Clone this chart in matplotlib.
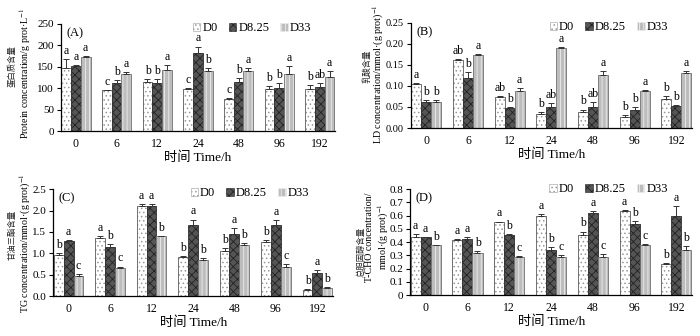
import matplotlib
matplotlib.use("Agg")
import matplotlib.pyplot as plt
import numpy as np

plt.rcParams["font.family"] = ["Liberation Serif", "Noto Sans CJK SC", "DejaVu Sans"]
plt.rcParams["mathtext.fontset"] = "stix"
plt.rcParams["hatch.linewidth"] = 0.6

times = ["0", "6", "12", "24", "48", "96", "192"]
groups = ["D0", "D8.25", "D33"]

# (A) protein
prot_d0 = [147, 95, 115, 98, 74, 98, 97]
prot_d825 = [152, 113, 113, 182, 114, 101, 102]
prot_d33 = [172, 133, 143, 140, 139, 133, 126]
prot_e0 = [20, 1, 6, 2, 3, 6, 10]
prot_e825 = [2, 7, 9, 15, 10, 10, 10]
prot_e33 = [3, 5, 10, 6, 8, 18, 14]
prot_l0 = ["a", "c", "b", "c", "c", "b", "b"]
prot_l825 = ["a", "b", "b", "a", "b", "b", "ab"]
prot_l33 = ["a", "a", "a", "b", "a", "a", "a"]

# (B) lactate
ld_d0 = [0.105, 0.162, 0.074, 0.034, 0.038, 0.027, 0.069]
ld_d825 = [0.063, 0.118, 0.047, 0.049, 0.050, 0.043, 0.052]
ld_d33 = [0.063, 0.173, 0.089, 0.190, 0.126, 0.088, 0.131]
ld_e0 = [0.002, 0.002, 0.002, 0.004, 0.006, 0.004, 0.008]
ld_e825 = [0.003, 0.015, 0.003, 0.010, 0.012, 0.007, 0.002]
ld_e33 = [0.003, 0.002, 0.006, 0.002, 0.010, 0.003, 0.005]
ld_l0 = ["a", "ab", "ab", "b", "b", "b", "b"]
ld_l825 = ["b", "b", "b", "ab", "ab", "b", "b"]
ld_l33 = ["b", "a", "a", "a", "a", "a", "a"]

# (C) triglyceride
tg_d0 = [0.95, 1.35, 2.10, 0.92, 1.05, 1.27, 0.14]
tg_d825 = [1.29, 1.15, 2.11, 1.67, 1.46, 1.66, 0.55]
tg_d33 = [0.47, 0.65, 1.40, 0.85, 1.20, 0.67, 0.18]
tg_e0 = [0.05, 0.05, 0.05, 0.02, 0.08, 0.03, 0.02]
tg_e825 = [0.02, 0.07, 0.05, 0.12, 0.12, 0.12, 0.05]
tg_e33 = [0.05, 0.04, 0.01, 0.03, 0.05, 0.07, 0.02]
tg_l0 = ["b", "a", "a", "b", "b", "b", "b"]
tg_l825 = ["a", "b", "a", "a", "a", "a", "a"]
tg_l33 = ["c", "c", "b", "b", "b", "c", "b"]

# (D) total cholesterol
tc_d0 = [0.44, 0.415, 0.55, 0.60, 0.45, 0.635, 0.235]
tc_d825 = [0.435, 0.425, 0.45, 0.34, 0.62, 0.54, 0.595]
tc_d33 = [0.375, 0.32, 0.29, 0.29, 0.29, 0.375, 0.34]
tc_e0 = [0.02, 0.005, 0.005, 0.01, 0.03, 0.01, 0.005]
tc_e825 = [0.005, 0.01, 0.01, 0.02, 0.015, 0.02, 0.075]
tc_e33 = [0.005, 0.01, 0.005, 0.015, 0.02, 0.01, 0.03]
tc_l0 = ["a", "a", "a", "a", "b", "a", "b"]
tc_l825 = ["a", "a", "b", "b", "a", "b", "a"]
tc_l33 = ["b", "b", "c", "c", "c", "c", "b"]

styles = [
    dict(facecolor="white", hatch="....", edgecolor="#999999"),
    dict(facecolor="#555555", hatch="xxxx", edgecolor="#222222"),
    dict(facecolor="#bdbdbd", hatch="||||", edgecolor="#eeeeee"),
]

fig = plt.figure(figsize=(7, 3.36), dpi=100)

panels = [
    dict(rect=[0.087, 0.610, 0.392, 0.319], tag="(A)", cn_xy=(12, 66), en_xy=(25, 73),
         vals=[prot_d0, prot_d825, prot_d33], errs=[prot_e0, prot_e825, prot_e33],
         lets=[prot_l0, prot_l825, prot_l33], ylim=250, step=50, fmt="{:.0f}",
         zero="0", ytick_fs=8, leg_y=0.96,
         cn="蛋白质含量", en="Protein concentration/g prot·L$^{-1}$"),
    dict(rect=[0.587, 0.619, 0.402, 0.313], tag="(B)", cn_xy=(367, 66), en_xy=(378, 74),
         vals=[ld_d0, ld_d825, ld_d33], errs=[ld_e0, ld_e825, ld_e33],
         lets=[ld_l0, ld_l825, ld_l33], ylim=0.25, step=0.05, fmt="{:.2f}",
         zero="0.00", ytick_fs=7.5, leg_y=0.96,
         cn="乳酸含量", en="LD concentration/mmol·(g prot)$^{-1}$"),
    dict(rect=[0.076, 0.119, 0.400, 0.318], tag="(C)", cn_xy=(12, 235), en_xy=(25, 243),
         vals=[tg_d0, tg_d825, tg_d33], errs=[tg_e0, tg_e825, tg_e33],
         lets=[tg_l0, tg_l825, tg_l33], ylim=2.5, step=0.5, fmt="{:.1f}",
         zero="0.0", ytick_fs=8, leg_y=0.96,
         cn="甘油三酯含量", en="TG concentration/mmol·(g prot)$^{-1}$"),
    dict(rect=[0.586, 0.122, 0.403, 0.315], tag="(D)", cn_xy=(361, 252), en_xy=(378, 237),
         vals=[tc_d0, tc_d825, tc_d33], errs=[tc_e0, tc_e825, tc_e33],
         lets=[tc_l0, tc_l825, tc_l33], ylim=0.8, step=0.1, fmt="{:.1f}",
         zero="0", ytick_fs=8, leg_y=1.0,
         cn="总胆固醇含量", en="T-CHO concentration/\nmmol·(g prot)$^{-1}$"),
]

x = np.arange(len(times))
w = 0.24
W, H = 700.0, 336.0
for p in panels:
    ax = fig.add_axes(p["rect"])
    handles = []
    for i in range(3):
        pos = x + (i - 1) * w
        vals = np.array(p["vals"][i])
        errs = np.array(p["errs"][i])
        b = ax.bar(pos, vals, w, label=groups[i], linewidth=0.4, **styles[i])
        handles.append(b)
        ax.bar(pos, vals, w, facecolor="none", edgecolor="#333333", linewidth=0.4)
        ax.errorbar(pos, vals, yerr=[np.zeros_like(errs), errs], fmt="none",
                    ecolor="#333333", elinewidth=0.7, capsize=2, capthick=0.7)
        for xp, v, e, t in zip(pos, vals, errs, p["lets"][i]):
            ax.annotate(t, (xp, v + e), xytext=(0, 1.5), textcoords="offset points",
                        ha="center", va="bottom", fontsize=8.5)
    ax.set_xlim(-0.37, 6.38)
    ax.set_ylim(0, p["ylim"])
    ticks = np.arange(0, p["ylim"] + p["step"] / 2, p["step"])
    ax.set_yticks(ticks)
    ax.set_yticklabels([p["fmt"].format(t) if t > 0 else p["zero"] for t in ticks],
                       fontsize=p["ytick_fs"])
    ax.set_xticks(x)
    ax.set_xticklabels(times, fontsize=8.5)
    ax.tick_params(axis="x", length=0, pad=5)
    ax.tick_params(axis="y", length=3, width=0.8, direction="out", pad=2)
    for s in ["top", "right"]:
        ax.spines[s].set_visible(False)
    for s in ["left", "bottom"]:
        ax.spines[s].set_linewidth(0.9)
    ax.set_xlabel("时间 Time/h", fontsize=9.5, labelpad=1)
    fig.text(p["en_xy"][0] / W, 1 - p["en_xy"][1] / H, p["en"], rotation=90,
             ha="center", va="center", fontsize=7.2, linespacing=1.15,
             multialignment="center")
    fig.text(p["cn_xy"][0] / W, 1 - p["cn_xy"][1] / H, p["cn"], rotation=90,
             ha="center", va="center", fontsize=6, color="#222222")
    ax.text(0.02, 0.97, p["tag"], transform=ax.transAxes, ha="left", va="top",
            fontsize=9)
    ax.legend(handles=handles, loc="center right", bbox_to_anchor=(0.94, p["leg_y"]),
              ncol=3, frameon=False, fontsize=9, handlelength=0.6, handleheight=0.6,
              handletextpad=0.15, columnspacing=0.9, borderpad=0.1)

fig.savefig("out.png", dpi=100)
